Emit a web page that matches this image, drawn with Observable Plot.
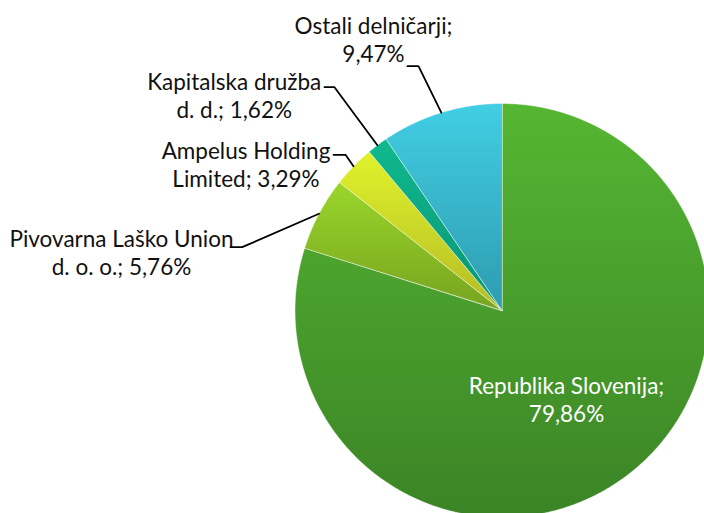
<!DOCTYPE html>
<html><head><meta charset="utf-8">
<script src="https://cdn.jsdelivr.net/npm/d3@7"></script>
<script src="https://cdn.jsdelivr.net/npm/@observablehq/plot@0.6"></script>
<style>html,body{margin:0;padding:0;background:#fff}#chart{width:704px;height:513px;overflow:hidden}</style>
</head><body><div id="chart"></div>
<script>
// ---- data ----
const shareholders = ["Republika Slovenija", "Pivovarna Laško Union d. o. o.", "Ampelus Holding Limited", "Kapitalska družba d. d.", "Ostali delničarji"];
const shares = [79.86, 5.76, 3.29, 1.62, 9.47];
const labelLines = [
  ["Republika Slovenija;", "79,86%"],
  ["Pivovarna Laško Union", "d. o. o.; 5,76%"],
  ["Ampelus Holding", "Limited; 3,29%"],
  ["Kapitalska družba", "d. d.; 1,62%"],
  ["Ostali delničarji;", "9,47%"]
];

// ---- styles / layout ----
const colorTop = ["#55b632", "#9ad62b", "#e0f22b", "#10b98e", "#41cee3"];
const colorBottom = ["#3b8426", "#77a31f", "#b4bc26", "#089474", "#2e9bb0"];
const pie = {cx: 501.5, cy: 310, r: 207};
const labelPos = [
  {x: 566, y: 399, fill: "white", leader: null},
  {x: 121, y: 251.3, fill: "#111", leader: {x: 230, y: 246.7, ex: 241.7}},
  {x: 245.5, y: 163.6, fill: "#111", leader: {x: 333, y: 154.3, ex: 345}},
  {x: 233.7, y: 94.3, fill: "#111", leader: {x: 324, y: 86.7, ex: 334}},
  {x: 373, y: 39, fill: "#111", leader: {x: 407, y: 65.7, ex: 418}}
];

// ---- geometry from data ----
const arcs = d3.pie().sort(null).value(d => d)(shares);
const slices = arcs.map((a, i) => {
  const pts = [{x: pie.cx, y: pie.cy}];
  const n = Math.max(4, Math.ceil((a.endAngle - a.startAngle) / (Math.PI / 360)));
  for (let k = 0; k <= n; k++) {
    const t = a.startAngle + (a.endAngle - a.startAngle) * k / n;
    pts.push({x: pie.cx + pie.r * Math.sin(t), y: pie.cy - pie.r * Math.cos(t)});
  }
  return pts;
});
const leaders = [];
arcs.forEach((a, i) => {
  const L = labelPos[i].leader;
  if (!L) return;
  const m = (a.startAngle + a.endAngle) / 2;
  leaders.push({id: i, x: L.x, y: L.y});
  leaders.push({id: i, x: L.ex, y: L.y});
  leaders.push({id: i, x: pie.cx + pie.r * Math.sin(m), y: pie.cy - pie.r * Math.cos(m)});
});
const labels = labelLines.map((l, i) => ({text: l.join("\n"), name: shareholders[i], ...labelPos[i]}));

const svg = Plot.plot({
  width: 704, height: 513, margin: 0,
  style: {background: "white", overflow: "hidden"},
  x: {domain: [0, 704], range: [0, 704], axis: null},
  y: {domain: [0, 513], range: [0, 513], axis: null},
  marks: [
    ...slices.map((pts, i) => Plot.line(pts, {
      x: "x", y: "y", curve: "linear-closed",
      fill: `url(#grad${i})`, stroke: "white", strokeOpacity: 0.6, strokeWidth: 0.8
    })),
    Plot.line(leaders, {x: "x", y: "y", z: "id", stroke: "#000", strokeWidth: 1.8, strokeLinejoin: "miter"}),
    Plot.text(labels, {
      x: "x", y: "y", text: "text", fill: "fill",
      fontFamily: "Lato", fontSize: 22.5, lineHeight: 1.24, textAnchor: "middle"
    })
  ],
  color: {type: "identity"}
});
const defs = d3.select(svg).insert("defs", ":first-child");
colorTop.forEach((c, i) => {
  const g = defs.append("linearGradient").attr("id", `grad${i}`)
    .attr("x1", 0).attr("y1", 0).attr("x2", 0).attr("y2", 1);
  g.append("stop").attr("offset", "0%").attr("stop-color", c);
  g.append("stop").attr("offset", "100%").attr("stop-color", colorBottom[i]);
});
document.getElementById("chart").appendChild(svg);
</script>
</body></html>
